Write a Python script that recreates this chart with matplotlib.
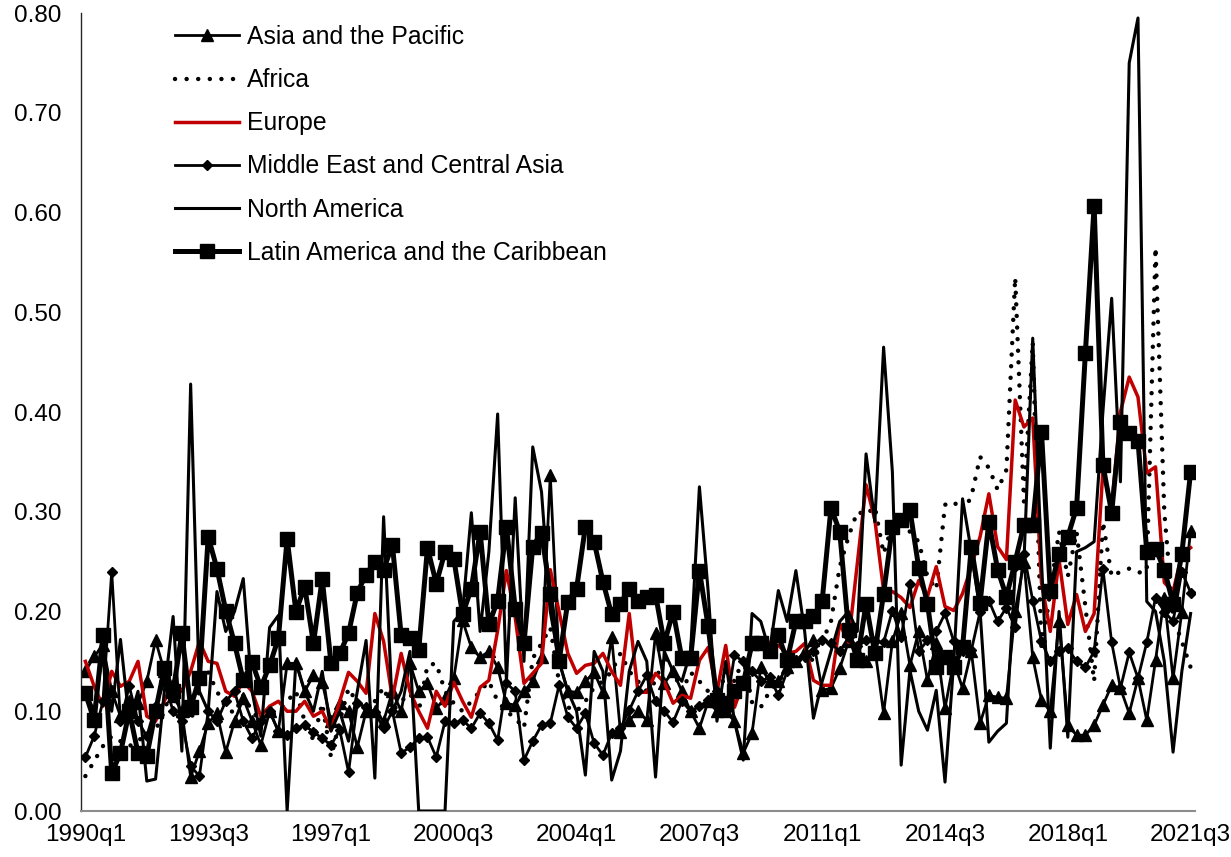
import matplotlib
matplotlib.use("Agg")
import matplotlib.pyplot as plt
import numpy as np

plt.rcParams['font.family'] = ['Liberation Sans', 'DejaVu Sans']

# quarters 1990q1 .. 2021q3
quarters = [f"{y}q{q}" for y in range(1990, 2022) for q in range(1, 5)][:127]
tick_labels = ["1990q1", "1993q3", "1997q1", "2000q3", "2004q1",
               "2007q3", "2011q1", "2014q3", "2018q1", "2021q3"]
y_ticks = [0.0, 0.1, 0.2, 0.3, 0.4, 0.5, 0.6, 0.7, 0.8]

asia = [0.140, 0.155, 0.166, 0.120, 0.095, 0.110, 0.108, 0.130, 0.171, 0.140,
        0.115, 0.100, 0.034, 0.060, 0.088, 0.098, 0.059, 0.090, 0.113, 0.090,
        0.066, 0.100, 0.080, 0.148, 0.148, 0.120, 0.136, 0.129, 0.090, 0.108,
        0.100, 0.064, 0.100, 0.100, 0.090, 0.120, 0.100, 0.148, 0.120, 0.128,
        0.103, 0.113, 0.133, 0.191, 0.164, 0.154, 0.160, 0.144, 0.108, 0.106,
        0.120, 0.130, 0.154, 0.337, 0.150, 0.120, 0.119, 0.130, 0.139, 0.119,
        0.174, 0.079, 0.091, 0.100, 0.091, 0.178, 0.128, 0.140, 0.120, 0.100,
        0.083, 0.110, 0.100, 0.100, 0.090, 0.058, 0.078, 0.144, 0.130, 0.130,
        0.144, 0.150, 0.160, 0.171, 0.121, 0.123, 0.143, 0.170, 0.160, 0.150,
        0.163, 0.098, 0.170, 0.198, 0.146, 0.180, 0.131, 0.168, 0.103, 0.150,
        0.123, 0.160, 0.088, 0.116, 0.114, 0.113, 0.201, 0.250, 0.154, 0.111,
        0.100, 0.190, 0.086, 0.076, 0.076, 0.086, 0.106, 0.126, 0.123, 0.098,
        0.133, 0.091, 0.151, 0.214, 0.133, 0.200, 0.281]

africa = [0.035, 0.050, 0.065, 0.075, 0.070, 0.065, 0.070, 0.078, 0.081, 0.100,
          0.128, 0.110, 0.090, 0.120, 0.139, 0.120, 0.104, 0.098, 0.116, 0.100,
          0.090, 0.095, 0.100, 0.110, 0.120, 0.090, 0.071, 0.108, 0.054, 0.090,
          0.123, 0.108, 0.100, 0.110, 0.124, 0.100, 0.110, 0.118, 0.100, 0.146,
          0.148, 0.120, 0.108, 0.100, 0.110, 0.120, 0.130, 0.110, 0.100, 0.093,
          0.083, 0.153, 0.168, 0.184, 0.129, 0.104, 0.100, 0.110, 0.124, 0.130,
          0.140, 0.158, 0.140, 0.130, 0.120, 0.130, 0.156, 0.140, 0.120, 0.139,
          0.130, 0.120, 0.110, 0.140, 0.130, 0.153, 0.109, 0.104, 0.120, 0.130,
          0.140, 0.150, 0.160, 0.150, 0.170, 0.190, 0.245, 0.275, 0.300, 0.297,
          0.305, 0.258, 0.287, 0.288, 0.280, 0.270, 0.235, 0.222, 0.307, 0.310,
          0.300, 0.315, 0.355, 0.344, 0.322, 0.342, 0.535, 0.310, 0.470, 0.160,
          0.220, 0.280, 0.235, 0.280, 0.205, 0.130, 0.290, 0.235, 0.240, 0.243,
          0.239, 0.240, 0.565, 0.300, 0.194, 0.170, 0.144]

europe = [0.150, 0.125, 0.105, 0.140, 0.125, 0.130, 0.150, 0.095, 0.090, 0.110,
          0.130, 0.120, 0.140, 0.170, 0.150, 0.148, 0.120, 0.115, 0.130, 0.120,
          0.095, 0.105, 0.110, 0.100, 0.100, 0.110, 0.095, 0.100, 0.081, 0.110,
          0.139, 0.130, 0.118, 0.198, 0.170, 0.113, 0.158, 0.120, 0.100, 0.083,
          0.120, 0.105, 0.129, 0.110, 0.094, 0.124, 0.131, 0.181, 0.241, 0.194,
          0.128, 0.138, 0.148, 0.242, 0.200, 0.158, 0.138, 0.146, 0.148, 0.158,
          0.140, 0.126, 0.198, 0.119, 0.119, 0.138, 0.129, 0.108, 0.116, 0.113,
          0.151, 0.164, 0.119, 0.166, 0.104, 0.129, 0.166, 0.170, 0.169, 0.166,
          0.158, 0.160, 0.168, 0.131, 0.126, 0.126, 0.188, 0.169, 0.248, 0.327,
          0.292, 0.221, 0.220, 0.214, 0.204, 0.231, 0.215, 0.245, 0.205, 0.201,
          0.218, 0.245, 0.275, 0.318, 0.265, 0.252, 0.412, 0.385, 0.394, 0.229,
          0.180, 0.252, 0.187, 0.217, 0.180, 0.198, 0.342, 0.305, 0.400, 0.435,
          0.415, 0.339, 0.345, 0.229, 0.220, 0.257, 0.264]

mideast = [0.054, 0.075, 0.110, 0.240, 0.090, 0.125, 0.090, 0.075, 0.105, 0.130,
           0.100, 0.090, 0.045, 0.035, 0.100, 0.090, 0.110, 0.120, 0.090, 0.073,
           0.090, 0.100, 0.080, 0.076, 0.083, 0.086, 0.079, 0.073, 0.066, 0.081,
           0.039, 0.108, 0.104, 0.099, 0.083, 0.100, 0.058, 0.064, 0.073, 0.074,
           0.054, 0.090, 0.088, 0.091, 0.083, 0.098, 0.088, 0.071, 0.128, 0.120,
           0.051, 0.070, 0.086, 0.088, 0.126, 0.094, 0.083, 0.098, 0.068, 0.056,
           0.078, 0.083, 0.101, 0.120, 0.136, 0.110, 0.100, 0.089, 0.110, 0.100,
           0.105, 0.111, 0.120, 0.100, 0.156, 0.150, 0.140, 0.130, 0.134, 0.116,
           0.140, 0.151, 0.154, 0.160, 0.171, 0.168, 0.160, 0.174, 0.165, 0.171,
           0.170, 0.169, 0.201, 0.174, 0.228, 0.160, 0.171, 0.180, 0.198, 0.170,
           0.160, 0.161, 0.200, 0.211, 0.190, 0.204, 0.184, 0.258, 0.211, 0.170,
           0.150, 0.160, 0.163, 0.150, 0.144, 0.160, 0.243, 0.169, 0.123, 0.159,
           0.133, 0.169, 0.214, 0.200, 0.190, 0.240, 0.219]

namerica = [0.120, 0.100, 0.160, 0.100, 0.172, 0.090, 0.120, 0.030, 0.032, 0.120,
            0.195, 0.060, 0.428, 0.120, 0.100, 0.220, 0.180, 0.200, 0.233, 0.120,
            0.075, 0.184, 0.196, 0.000, 0.150, 0.120, 0.100, 0.140, 0.080, 0.100,
            0.070, 0.120, 0.171, 0.033, 0.295, 0.100, 0.120, 0.160, 0.000, 0.000,
            0.000, 0.000, 0.190, 0.200, 0.299, 0.180, 0.260, 0.398, 0.130, 0.314,
            0.150, 0.365, 0.320, 0.200, 0.150, 0.120, 0.100, 0.036, 0.160, 0.140,
            0.031, 0.060, 0.140, 0.170, 0.150, 0.034, 0.160, 0.140, 0.130, 0.160,
            0.325, 0.220, 0.090, 0.150, 0.090, 0.051, 0.198, 0.190, 0.160, 0.221,
            0.190, 0.241, 0.180, 0.093, 0.130, 0.160, 0.190, 0.200, 0.180, 0.358,
            0.290, 0.465, 0.340, 0.046, 0.141, 0.100, 0.081, 0.121, 0.029, 0.150,
            0.313, 0.260, 0.200, 0.069, 0.080, 0.088, 0.240, 0.250, 0.474, 0.250,
            0.063, 0.200, 0.074, 0.260, 0.264, 0.270, 0.400, 0.514, 0.330, 0.750,
            0.795, 0.210, 0.200, 0.150, 0.059, 0.140, 0.198]

latam = [0.118, 0.091, 0.176, 0.038, 0.058, 0.100, 0.058, 0.055, 0.100, 0.143,
         0.120, 0.178, 0.104, 0.133, 0.275, 0.243, 0.201, 0.168, 0.131, 0.149,
         0.124, 0.146, 0.173, 0.273, 0.200, 0.225, 0.168, 0.233, 0.148, 0.158,
         0.178, 0.219, 0.237, 0.250, 0.242, 0.267, 0.176, 0.173, 0.161, 0.264,
         0.228, 0.260, 0.253, 0.197, 0.223, 0.280, 0.187, 0.211, 0.285, 0.203,
         0.168, 0.265, 0.279, 0.218, 0.150, 0.210, 0.223, 0.285, 0.270, 0.230,
         0.197, 0.208, 0.223, 0.211, 0.215, 0.217, 0.168, 0.200, 0.153, 0.153,
         0.241, 0.185, 0.111, 0.108, 0.120, 0.128, 0.168, 0.168, 0.160, 0.176,
         0.151, 0.190, 0.190, 0.195, 0.211, 0.304, 0.280, 0.181, 0.151, 0.208,
         0.158, 0.218, 0.285, 0.292, 0.302, 0.244, 0.208, 0.144, 0.154, 0.144,
         0.164, 0.265, 0.209, 0.290, 0.242, 0.215, 0.250, 0.287, 0.287, 0.380,
         0.221, 0.258, 0.275, 0.304, 0.459, 0.607, 0.347, 0.299, 0.390, 0.379,
         0.371, 0.260, 0.263, 0.242, 0.208, 0.258, 0.340]

x = np.arange(len(quarters))

fig = plt.figure(figsize=(12.31, 8.57), dpi=100)
ax = fig.add_axes([81/1231, 1 - 811/857, (1195 - 81)/1231, (811 - 13)/857])

ax.plot(x, asia, color='black', lw=2.0, marker='^', ms=9, label='Asia and the Pacific', zorder=2)
ax.plot(x, africa, color='black', lw=3.2, linestyle=(0, (0.01, 2.6)), dash_capstyle='round',
        label='Africa', zorder=3)
ax.plot(x, europe, color='#C00000', lw=2.5, label='Europe', zorder=4)
ax.plot(x, mideast, color='black', lw=2.0, marker='D', ms=5.5, label='Middle East and Central Asia', zorder=5)
ax.plot(x, namerica, color='black', lw=2.2, label='North America', zorder=6)
ax.plot(x, latam, color='black', lw=3.6, marker='s', ms=10, label='Latin America and the Caribbean', zorder=7)

ax.set_xlim(-0.5, len(quarters) - 0.5)
ax.set_ylim(0, 0.8)
ax.set_yticks(y_ticks)
ax.set_yticklabels([f"{v:.2f}" for v in y_ticks])
ax.set_xticks([quarters.index(t) for t in tick_labels])
ax.set_xticklabels(tick_labels)
ax.tick_params(axis='both', length=0, labelsize=17.5, colors='black')
ax.tick_params(axis='y', pad=14)
ax.tick_params(axis='x', pad=9)
for s in ['top', 'right']:
    ax.spines[s].set_visible(False)
ax.spines['left'].set_color('#262626')
ax.spines['bottom'].set_color('#8c8c8c')
ax.spines['left'].set_linewidth(1.0)
ax.spines['bottom'].set_linewidth(1.5)

leg = fig.legend(loc='upper left', bbox_to_anchor=(175/1231, 1 - 25/857), frameon=False,
                 fontsize=17.8, handlelength=2.6, handletextpad=0.3, labelspacing=0.775,
                 borderpad=0, borderaxespad=0)

fig.savefig('out.png', dpi=100)
